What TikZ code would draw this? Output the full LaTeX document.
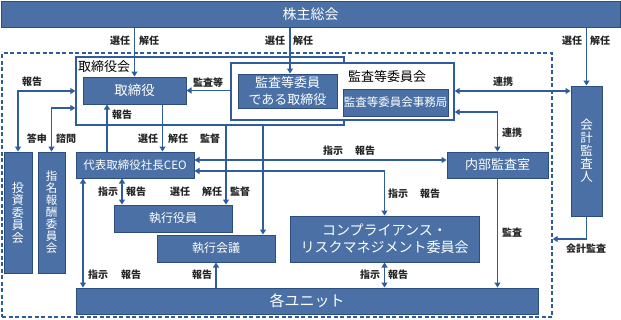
\documentclass[tikz,border=0pt]{standalone}
\usepackage{fontspec}
\setmainfont{Noto Sans CJK JP}
\usetikzlibrary{arrows.meta}
\definecolor{orgfill}{RGB}{74,112,165}
\definecolor{orgedge}{RGB}{44,78,126}
\definecolor{orgline}{RGB}{46,92,158}
\tikzset{
  orgbox/.style={fill=orgfill, draw=orgedge, line width=1pt, text=white, inner sep=0pt, align=center},
  orgframe/.style={fill=white, draw=orgline, line width=1.4pt, inner sep=0pt},
  orggroup/.style={draw=orgline, line width=1.4pt, dash pattern=on 4pt off 2.5pt, inner sep=0pt},
  orglink/.style={draw=orgline, line width=1.6pt, -{Triangle[length=5pt,width=6pt]}},
  orgboth/.style={draw=orgline, line width=1.6pt, {Triangle[length=5pt,width=6pt]}-{Triangle[length=5pt,width=6pt]}},
  orglabel/.style={font=\fontsize{10}{10}\selectfont\bfseries, text=black!85, inner sep=0pt},
  orghead/.style={font=\fontsize{13}{14}\selectfont, inner sep=0pt},
}

\begin{document}
\begin{tikzpicture}[x=1pt,y=-1pt]
\useasboundingbox (0,0) rectangle (621,319);
% frames
\node[orggroup, minimum width=550pt, minimum height=264pt] (group) at (277,185) {};
\node[orgframe, minimum width=268pt, minimum height=68pt] (boardframe) at (210,91) {};
\node[orgframe, minimum width=223pt, minimum height=57pt] (acframe) at (342.5,91.5) {};
\node[orghead, anchor=west] (boardhead) at (78,67) {取締役会};
\node[orghead] (achead) at (387,77) {監査等委員会};
% boxes
\node[orgbox, minimum width=619pt, minimum height=26pt, font=\fontsize{14}{15}\selectfont] (share) at (310.5,14) {株主総会};
\node[orgbox, minimum width=103pt, minimum height=27pt, font=\fontsize{13.5}{14}\selectfont] (director) at (134.5,90.5) {取締役};
\node[orgbox, minimum width=99pt, minimum height=34pt, font=\fontsize{13}{16.5}\selectfont] (acdir) at (287.5,91) {監査等委員\\である取締役};
\node[orgbox, minimum width=105pt, minimum height=27pt, font=\fontsize{11.5}{12}\selectfont] (acoffice) at (395.5,102.5) {監査等委員会事務局};
\node[orgbox, minimum width=31pt, minimum height=130pt, font=\fontsize{12.5}{13}\selectfont] (auditor) at (586.5,151) {会\\計\\監\\査\\人};
\node[orgbox, minimum width=28pt, minimum height=121pt, font=\fontsize{12}{12.5}\selectfont] (invest) at (18,212.5) {投\\資\\委\\員\\会};
\node[orgbox, minimum width=27pt, minimum height=121pt, font=\fontsize{11.5}{12}\selectfont] (nomin) at (51.5,212.5) {指\\名\\報\\酬\\委\\員\\会};
\node[orgbox, minimum width=118pt, minimum height=26pt, font=\fontsize{11.5}{12}\selectfont] (ceo) at (135,165) {代表取締役社長CEO};
\node[orgbox, minimum width=101pt, minimum height=26pt, font=\fontsize{13}{14}\selectfont] (internal) at (497.5,165) {内部監査室};
\node[orgbox, minimum width=118pt, minimum height=27pt, font=\fontsize{12}{13}\selectfont] (officers) at (173,218.5) {執行役員};
\node[orgbox, minimum width=118pt, minimum height=27pt, font=\fontsize{12}{13}\selectfont] (council) at (216,248.5) {執行会議};
\node[orgbox, minimum width=189pt, minimum height=46pt, font=\fontsize{14}{17}\selectfont] (compliance) at (384.5,239) {コンプライアンス・\\リスクマネジメント委員会};
\node[orgbox, minimum width=462pt, minimum height=26pt, font=\fontsize{15}{16}\selectfont] (units) at (307,301) {各ユニット};
% connectors
\draw[orglink] (director.north |- share.south) -- (director.north);
\draw[orglink] ([xshift=2.5pt]acdir.north |- share.south) -- ([xshift=2.5pt]acdir.north);
\draw[orglink] (auditor.north |- share.south) -- (auditor.north);
\draw[orglink] (acframe.west |- director.east) -- (director.east);
\draw[orgboth] (acframe.east |- acdir) -- (auditor.west |- acdir);
\draw[orgboth] ([yshift=-20.5pt]acframe.east) -| (internal.north);
\draw[orgboth] (invest.north) |- (boardframe.west);
\draw[orgboth] (nomin.north) |- ([yshift=-17pt]boardframe.west);
\draw[orglink] ([xshift=-28pt]ceo.north) -- ([xshift=-28pt]ceo.north |- director.south);
\draw[orglink] ([xshift=28pt]director.south) -- ([xshift=28pt]director.south |- ceo.north);
\draw[orglink] ([xshift=53pt]officers.north |- boardframe.south) -- ([xshift=53pt]officers.north);
\draw[orglink] ([xshift=47pt]council.north |- boardframe.south) -- ([xshift=47pt]council.north);
\draw[orgboth] ([yshift=5pt]ceo.east) -- ([yshift=5pt]internal.west);
\draw[orgboth] ([yshift=-6pt]ceo.east) -| (compliance.north);
\draw[orgboth] ([xshift=-13pt]ceo.south) -- ([xshift=-13pt]ceo.south |- officers.north);
\draw[orgboth] ([xshift=-52pt]ceo.south) -- ([xshift=-52pt]ceo.south |- units.north);
\draw[orglink] (council.south |- units.north) -- (council.south);
\draw[orgboth] (compliance.south) -- (compliance.south |- units.north);
\draw[orglink] (internal.south) -- (internal.south |- units.north);
\draw[orglink] (auditor.south) |- ([yshift=-54pt]group.east);
% labels
\node[orglabel] (sel1) at (120,41) {選任};
\node[orglabel] (dis1) at (149,41) {解任};
\node[orglabel] (sel2) at (275,41) {選任};
\node[orglabel] (dis2) at (303,41) {解任};
\node[orglabel] (sel3) at (572,41) {選任};
\node[orglabel] (dis3) at (600,41) {解任};
\node[orglabel] (aud1) at (208,83) {監査等};
\node[orglabel] (coop1) at (503,82) {連携};
\node[orglabel] (coop2) at (512,133) {連携};
\node[orglabel] (rep1) at (32,82) {報告};
\node[orglabel] (ans1) at (37,139) {答申};
\node[orglabel] (ask1) at (66,139) {諮問};
\node[orglabel] (rep2) at (122,115) {報告};
\node[orglabel] (sel4) at (148,139) {選任};
\node[orglabel] (dis4) at (178,139) {解任};
\node[orglabel] (sup1) at (210,139) {監督};
\node[orglabel] (ins1) at (108,192) {指示};
\node[orglabel] (rep3) at (136,192) {報告};
\node[orglabel] (sel5) at (180,192) {選任};
\node[orglabel] (dis5) at (212,192) {解任};
\node[orglabel] (sup2) at (240,192) {監督};
\node[orglabel] (ins2) at (333,151) {指示};
\node[orglabel] (rep4) at (365,151) {報告};
\node[orglabel] (ins3) at (398,194) {指示};
\node[orglabel] (rep5) at (430,194) {報告};
\node[orglabel] (aud2) at (512,233) {監査};
\node[orglabel] (aud3) at (586,249) {会計監査};
\node[orglabel] (ins4) at (98,275) {指示};
\node[orglabel] (rep6) at (131,275) {報告};
\node[orglabel] (rep7) at (202,275) {報告};
\node[orglabel] (ins5) at (370,275) {指示};
\node[orglabel] (rep8) at (398,275) {報告};
\end{tikzpicture}
\end{document}
